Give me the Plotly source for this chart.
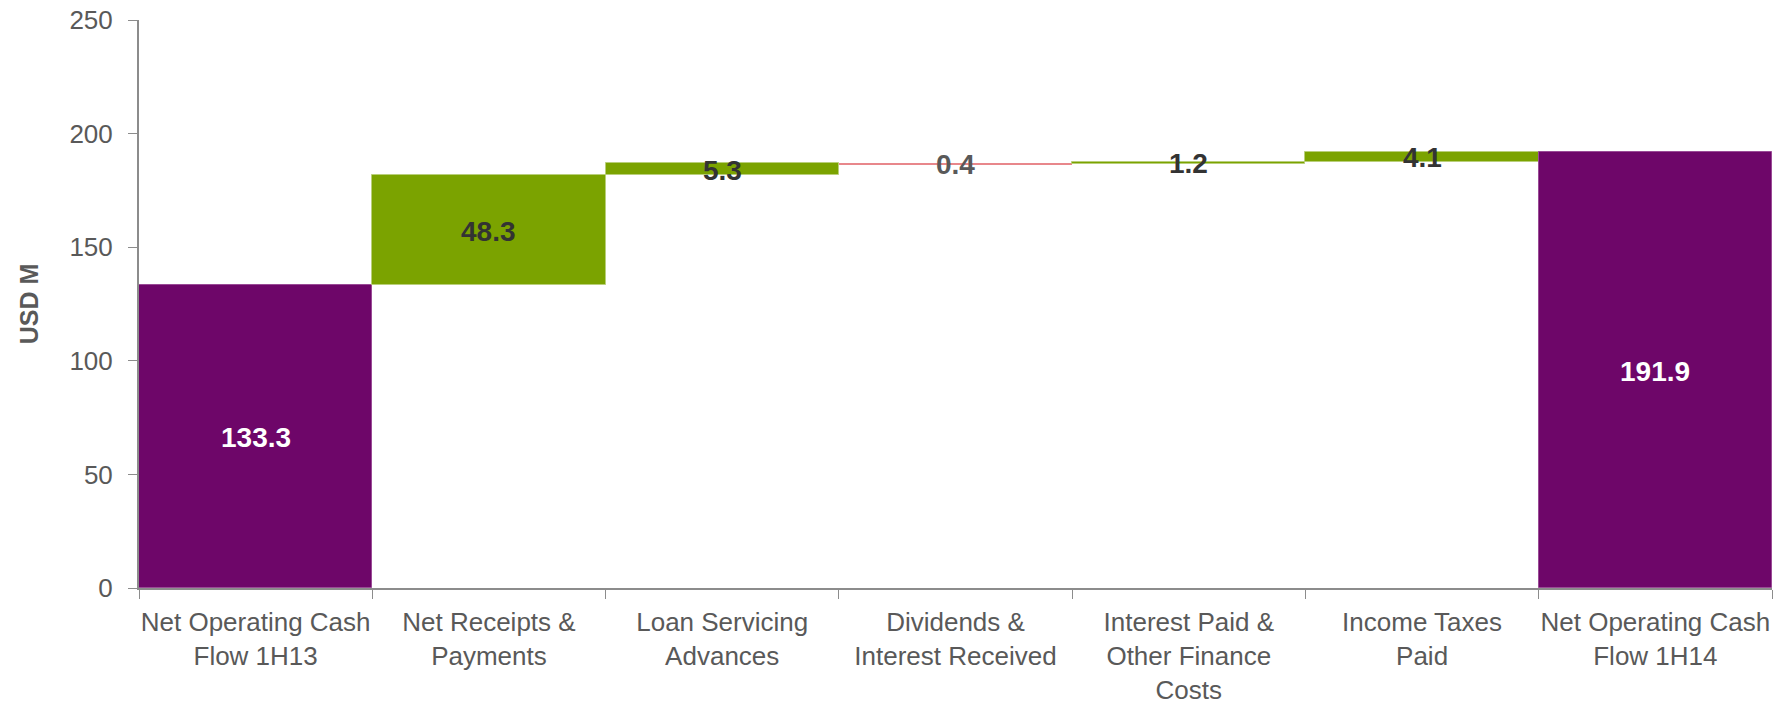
import plotly.graph_objects as go

categories = [
    "Net Operating Cash<br>Flow 1H13",
    "Net Receipts &<br>Payments",
    "Loan Servicing<br>Advances",
    "Dividends &<br>Interest Received",
    "Interest Paid &<br>Other Finance<br>Costs",
    "Income Taxes<br>Paid",
    "Net Operating Cash<br>Flow 1H14",
]
values = [133.3, 48.3, 5.3, -0.4, 1.2, 4.1, 191.9]
measures = ["absolute", "relative", "relative", "relative", "relative", "relative", "absolute"]
label_colors = ["#FFFFFF", "#333333", "#333333", "#595959", "#333333", "#333333", "#FFFFFF"]

PURPLE = "#6E0669"
GREEN = "#7BA300"
RED = "#E8878B"
GRAY = "#8C8C8C"
TXT = "#595959"

# label midpoints derived from the waterfall data
mids = []
running = 0.0
for v, m in zip(values, measures):
    if m == "absolute":
        start, end = 0.0, v
        running = v
    else:
        start, end = running, running + v
        running = end
    mids.append((start + end) / 2)

fig = go.Figure()
fig.add_trace(go.Waterfall(
    x=categories,
    y=values,
    measure=measures,
    width=[1] * len(values),
    connector=dict(visible=False),
    increasing=dict(marker=dict(color=GREEN, line=dict(color="#B9CF7A", width=1))),
    decreasing=dict(marker=dict(color=RED, line=dict(color=RED, width=0))),
    totals=dict(marker=dict(color=PURPLE, line=dict(color="#9A4A96", width=1))),
    textposition="none",
    hoverinfo="skip",
    showlegend=False,
))

for cat, mid, v, col in zip(categories, mids, values, label_colors):
    fig.add_annotation(
        x=cat, y=mid, xref="x", yref="y",
        text=f"<b>{abs(v):.1f}</b>",
        showarrow=False, yshift=-1,
        font=dict(family="Liberation Sans, Arial, sans-serif", size=28, color=col),
    )

fig.update_layout(
    width=1785, height=704,
    margin=dict(l=139, r=13, t=20, b=116),
    paper_bgcolor="white", plot_bgcolor="white",
    font=dict(family="Liberation Sans, Arial, sans-serif", size=26, color=TXT),
    waterfallgap=0,
    showlegend=False,
)
fig.update_xaxes(
    type="category",
    range=[-0.5, 6.5],
    automargin=False,
    tickangle=0,
    showline=True, linecolor=GRAY, linewidth=2,
    ticks="outside", tickson="boundaries", ticklen=9, tickcolor=GRAY, tickwidth=1,
    ticklabelstandoff=10,
    tickfont=dict(size=26, color=TXT),
    showgrid=False, zeroline=False,
)
fig.update_yaxes(
    range=[0, 250], dtick=50,
    automargin=False,
    showline=True, linecolor=GRAY, linewidth=2,
    ticks="outside", ticklen=9, tickcolor=GRAY, tickwidth=1,
    ticklabelstandoff=10,
    tickfont=dict(size=26, color=TXT),
    showgrid=False, zeroline=False,
    title=dict(text="<b>USD M</b>", font=dict(size=25, color=TXT), standoff=24),
)

fig.write_html("out.html")
